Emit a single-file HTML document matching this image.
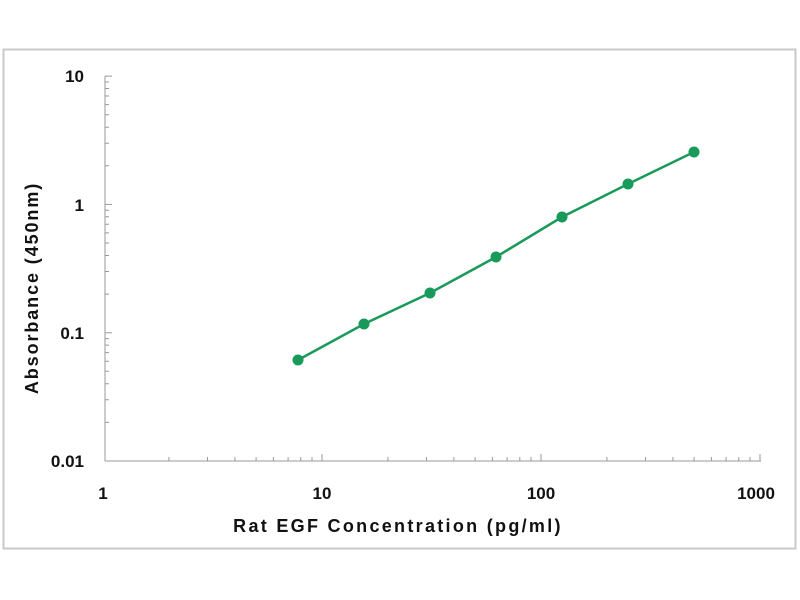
<!DOCTYPE html>
<html><head><style>body{margin:0;background:#fff}svg{display:block}</style></head><body>
<svg width="800" height="600" xmlns="http://www.w3.org/2000/svg" font-family="Liberation Sans, sans-serif" font-weight="bold">
<rect x="3.5" y="49.5" width="792" height="499" fill="#fff" stroke="#c8c8c8" stroke-width="2"/>
<g stroke="#999" stroke-width="1" fill="none">
<line x1="105" y1="76" x2="105" y2="461"/>
<line x1="105" y1="461" x2="761" y2="461"/>
<path d="M105 461H112M105 332.7H112M105 204.4H112M105 76.1H112
M105 422.4H109M105 399.8H109M105 383.8H109M105 371.3H109M105 361.2H109M105 352.6H109M105 345.1H109M105 338.6H109
M105 294.1H109M105 271.5H109M105 255.5H109M105 243H109M105 232.9H109M105 224.3H109M105 216.8H109M105 210.3H109
M105 165.8H109M105 143.2H109M105 127.2H109M105 114.7H109M105 104.6H109M105 96H109M105 88.5H109M105 82H109
M322 461V454M541 461V454M760 461V454
M168.9 461V457M207.5 461V457M234.9 461V457M256.1 461V457M273.4 461V457M288.1 461V457M300.8 461V457M312 461V457
M387.9 461V457M426.5 461V457M453.9 461V457M475.1 461V457M492.4 461V457M507.1 461V457M519.8 461V457M531 461V457
M606.9 461V457M645.5 461V457M672.9 461V457M694.1 461V457M711.4 461V457M726.1 461V457M738.8 461V457M750 461V457"/>
</g>
<g font-size="17" fill="#111" text-anchor="end">
<text x="84" y="82">10</text>
<text x="84" y="211">1</text>
<text x="84" y="339">0.1</text>
<text x="84" y="467">0.01</text>
</g>
<g font-size="17" fill="#111" text-anchor="middle">
<text x="103" y="499">1</text>
<text x="322" y="499">10</text>
<text x="541" y="499">100</text>
<text x="756" y="499">1000</text>
</g>
<text x="398" y="532" font-size="18" letter-spacing="2.3" text-anchor="middle" fill="#111">Rat EGF Concentration (pg/ml)</text>
<text transform="translate(38,288) rotate(-90)" font-size="18" letter-spacing="1.9" text-anchor="middle" fill="#111">Absorbance (450nm)</text>
<polyline fill="none" stroke="#1a9a5a" stroke-width="2.5" points="298,360 364,324 430,293 496,257 562,217 628,184 694,152"/>
<g fill="#1a9a5a">
<circle cx="298" cy="360" r="5.5"/><circle cx="364" cy="324" r="5.5"/><circle cx="430" cy="293" r="5.5"/><circle cx="496" cy="257" r="5.5"/><circle cx="562" cy="217" r="5.5"/><circle cx="628" cy="184" r="5.5"/><circle cx="694" cy="152" r="5.5"/>
</g>
</svg>
</body></html>
